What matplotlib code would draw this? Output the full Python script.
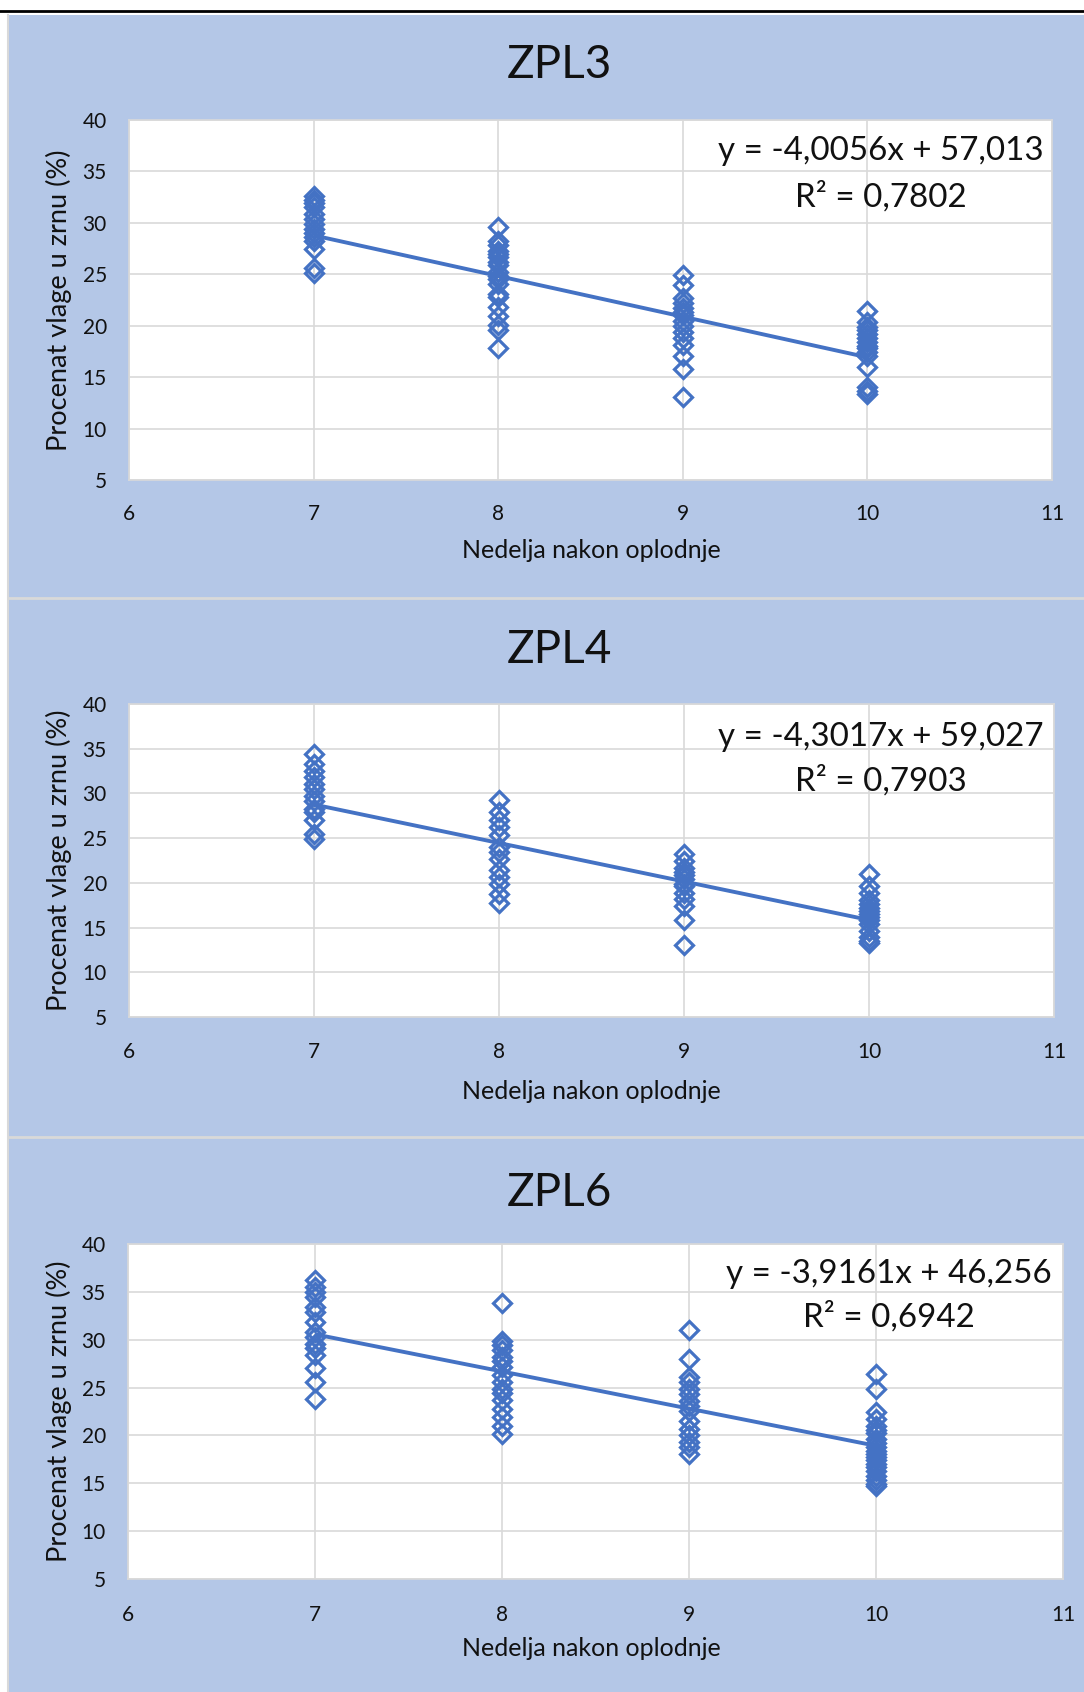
import numpy as np
import matplotlib
matplotlib.use("Agg")
import matplotlib.pyplot as plt
from matplotlib.patches import Rectangle
from matplotlib.lines import Line2D

plt.rcParams['font.family'] = ['Lato', 'DejaVu Sans']

# ---- data: grain moisture (%) per week after pollination ----
weeks = [7, 8, 9, 10]

zpl3_w7 = [32.6, 32.2, 31.9, 31.5, 30.9, 30.4, 29.9, 29.4, 29.0, 28.6, 28.2, 27.5, 25.6, 25.1]
zpl3_w8 = [29.6, 28.2, 27.8, 27.3, 27.0, 26.7, 26.2, 25.9, 25.2, 24.8, 24.5, 24.1, 23.1, 22.8,
           21.8, 20.9, 20.1, 19.6, 17.8]
zpl3_w9 = [24.9, 24.0, 22.7, 22.2, 21.7, 21.3, 21.0, 20.5, 20.0, 19.4, 18.8, 18.1, 17.1, 15.8, 13.1]
zpl3_w10 = [21.4, 20.4, 19.9, 19.6, 19.2, 18.8, 18.4, 18.0, 17.8, 17.4, 17.1, 16.0, 14.0, 13.7, 13.4]

zpl4_w7 = [34.4, 33.3, 32.5, 31.8, 31.1, 30.5, 29.7, 29.2, 28.3, 27.9, 27.0, 25.5, 24.9]
zpl4_w8 = [29.3, 27.9, 27.0, 26.2, 25.3, 24.0, 23.4, 22.7, 21.4, 20.6, 19.9, 18.8, 17.7]
zpl4_w9 = [23.2, 22.4, 21.7, 21.2, 20.9, 20.4, 19.9, 19.6, 18.9, 18.2, 17.4, 15.9, 13.1]
zpl4_w10 = [21.0, 19.6, 18.9, 18.1, 17.6, 17.2, 16.8, 16.5, 16.2, 15.8, 15.4, 14.6, 14.0, 13.5, 13.3]

zpl6_w7 = [36.2, 35.5, 35.0, 34.5, 33.4, 32.9, 31.9, 30.8, 30.3, 29.6, 29.1, 28.4, 27.0, 25.6, 23.8]
zpl6_w8 = [33.8, 29.9, 29.4, 28.9, 28.2, 27.8, 27.1, 26.3, 25.6, 24.9, 24.4, 23.7, 22.8, 21.9,
           21.0, 20.2]
zpl6_w9 = [31.0, 28.0, 26.1, 25.6, 24.9, 24.3, 23.6, 23.1, 22.6, 21.5, 20.7, 20.0, 19.3, 18.8, 18.1]
zpl6_w10 = [26.4, 24.9, 22.4, 21.7, 21.0, 20.6, 20.3, 19.6, 19.2, 18.8, 18.4, 18.1, 17.7, 17.4,
            17.0, 16.7, 16.3, 15.8, 15.3, 14.9, 14.7]

titles = ["ZPL3", "ZPL4", "ZPL6"]
series = [
    [zpl3_w7, zpl3_w8, zpl3_w9, zpl3_w10],
    [zpl4_w7, zpl4_w8, zpl4_w9, zpl4_w10],
    [zpl6_w7, zpl6_w8, zpl6_w9, zpl6_w10],
]
equations = ["y = -4,0056x + 57,013", "y = -4,3017x + 59,027", "y = -3,9161x + 46,256"]
r2_labels = ["R² = 0,7802", "R² = 0,7903", "R² = 0,6942"]

x_ticks = [6, 7, 8, 9, 10, 11]
y_ticks = [5, 10, 15, 20, 25, 30, 35, 40]
x_label = "Nedelja nakon oplodnje"
y_label = "Procenat vlage u zrnu (%)"

# ---- layout (pixels) ----
W, H = 1084, 1692
BLUE = '#B4C7E7'
MARK = '#4472C4'
GRID = '#D9D9D9'
TXT = '#111111'


def fx(px):
    return px / W


def fy(py):
    return 1 - py / H


fig = plt.figure(figsize=(W / 100, H / 100), dpi=100)
fig.patch.set_facecolor('white')

# panel background and frame lines (kept beneath the axes)
fig.patches.append(Rectangle((fx(8), 0), 1 - fx(8), fy(15), transform=fig.transFigure,
                             facecolor=BLUE, edgecolor='none', zorder=-3))
fig.lines.append(Line2D([fx(8), fx(8)], [0, fy(15)], transform=fig.transFigure,
                        color=GRID, lw=1.5, zorder=-2))
fig.lines.append(Line2D([0, 1], [fy(11), fy(11)], transform=fig.transFigure,
                        color='black', lw=2.0, zorder=-2))
for ys in (598, 1137):
    fig.lines.append(Line2D([fx(8), 1], [fy(ys), fy(ys)], transform=fig.transFigure,
                            color=GRID, lw=2.0, zorder=-2))

# (left, top, right, bottom) of each plot area
boxes = [(129, 120, 1052, 480), (129, 704, 1054, 1017), (128, 1244, 1063, 1579)]
title_y = [65, 650, 1193]
xlabel_y = [550, 1091, 1648]
eq_pos = [(881, 151, 197), (881, 737, 781), (889, 1274, 1317)]
xpad = [17, 18, 19]

for i, (l, t, r, b) in enumerate(boxes):
    ax = fig.add_axes([fx(l), fy(b), (r - l) / W, (b - t) / H])
    ax.set_facecolor('white')
    ax.set_xlim(6, 11)
    ax.set_ylim(5, 40)
    ax.set_xticks(x_ticks)
    ax.set_yticks(y_ticks)
    ax.grid(True, color=GRID, lw=1.2)
    ax.set_axisbelow(True)
    for s in ax.spines.values():
        s.set_color(GRID)
        s.set_linewidth(1.2)
    ax.tick_params(length=0, labelsize=15, labelcolor=TXT)
    ax.tick_params(axis='y', pad=16)
    ax.tick_params(axis='x', pad=xpad[i])

    xs = np.concatenate([np.full(len(v), w, dtype=float) for w, v in zip(weeks, series[i])])
    ys = np.concatenate([np.asarray(v, dtype=float) for v in series[i]])
    ax.plot(xs, ys, linestyle='none', marker='D', ms=9.4, mfc='none', mec=MARK, mew=2.3,
            zorder=3, clip_on=False)

    # least-squares trend line over the observed weeks
    k, c = np.polyfit(xs, ys, 1)
    xx = np.array([min(weeks), max(weeks)], dtype=float)
    ax.plot(xx, k * xx + c, color=MARK, lw=2.8, zorder=4, solid_capstyle='butt')

    fig.text(fx(559), fy(title_y[i]), titles[i], ha='center', va='center',
             fontsize=33, color=TXT)
    fig.text(fx(591), fy(xlabel_y[i]), x_label, ha='center', va='center',
             fontsize=18, color=TXT)
    fig.text(fx(59), fy((t + b) / 2), y_label, ha='center', va='center', rotation=90,
             fontsize=19.5, color=TXT)
    cx, y1, y2 = eq_pos[i]
    fig.text(fx(cx), fy(y1), equations[i], ha='center', va='center', fontsize=23.9, color=TXT)
    fig.text(fx(cx), fy(y2), r2_labels[i], ha='center', va='center', fontsize=23.9, color=TXT)

fig.savefig('out.png', dpi=100)
